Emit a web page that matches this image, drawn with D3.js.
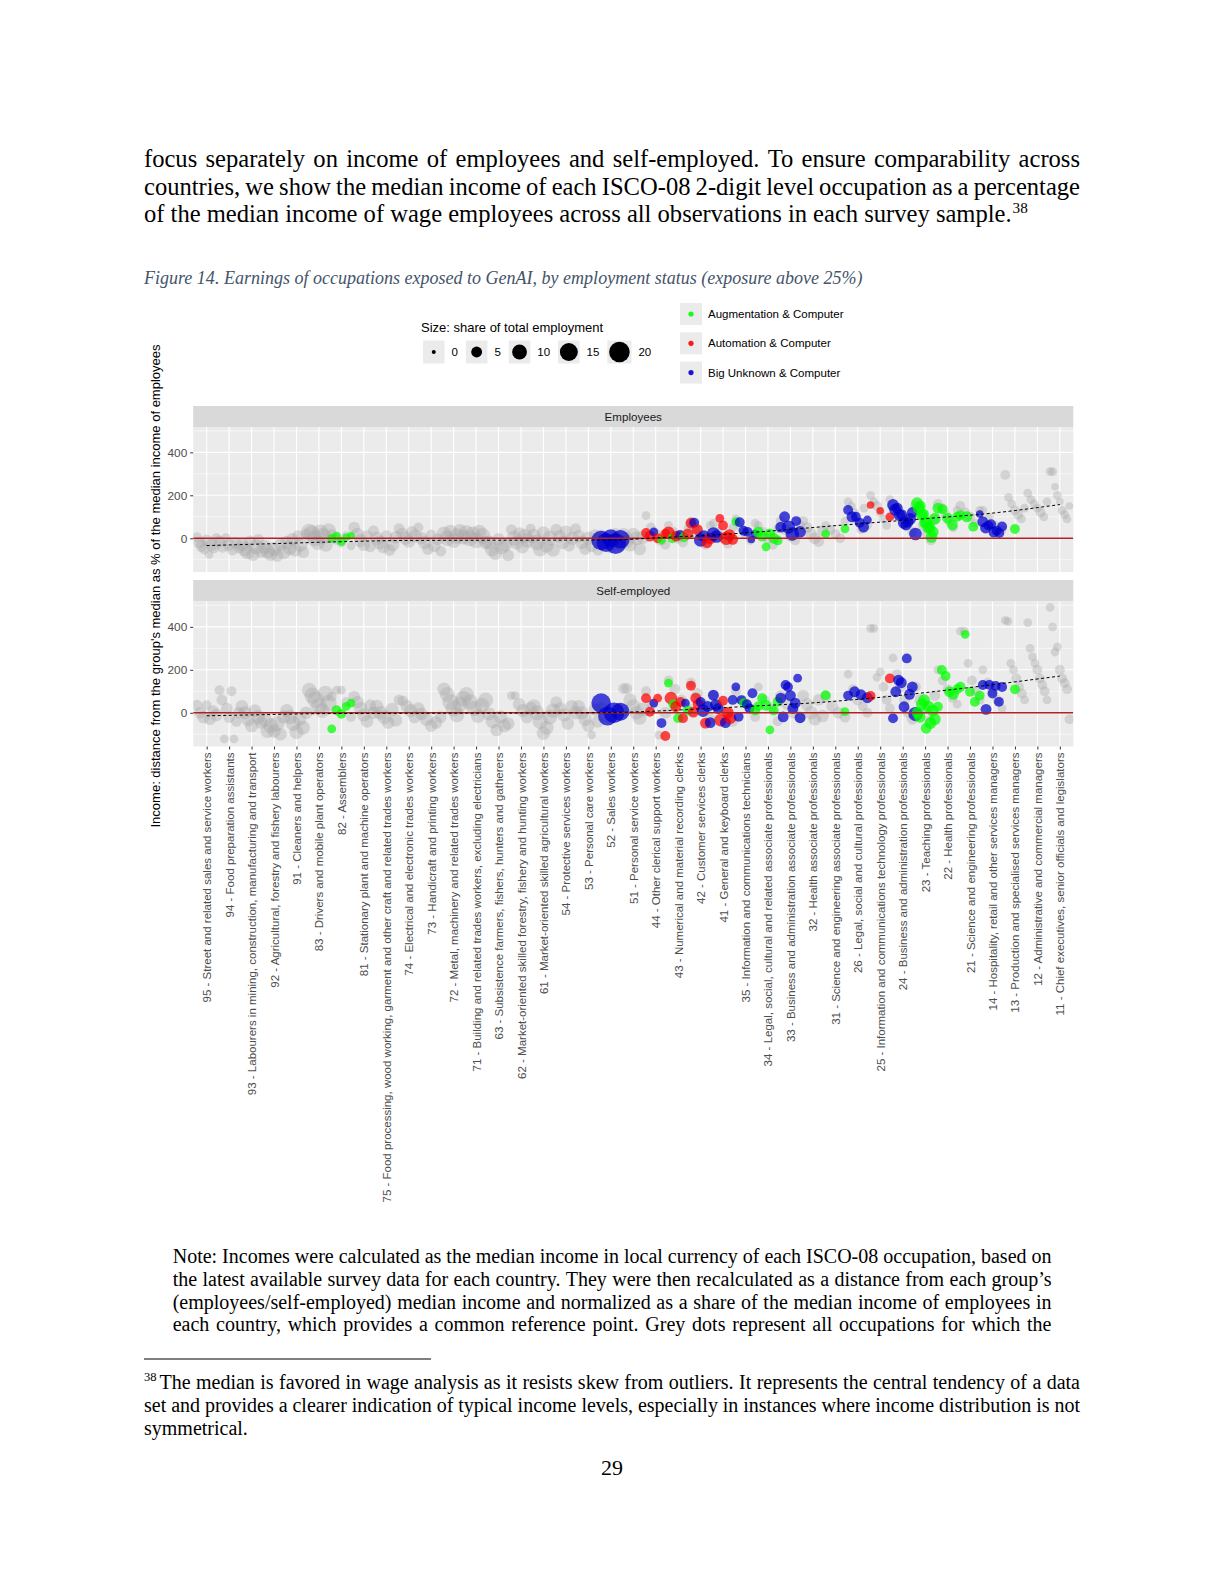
<!DOCTYPE html>
<html><head><meta charset="utf-8">
<script src="https://cdn.jsdelivr.net/npm/d3@7"></script>
<style>body{margin:0;background:#fff}svg{display:block}</style>
</head><body>
<svg id="page" width="1224" height="1584"></svg>
<script>
// ---------------- DATA ----------------
const occupations = [
"95 - Street and related sales and service workers",
"94 - Food preparation assistants",
"93 - Labourers in mining, construction, manufacturing and transport",
"92 - Agricultural, forestry and fishery labourers",
"91 - Cleaners and helpers",
"83 - Drivers and mobile plant operators",
"82 - Assemblers",
"81 - Stationary plant and machine operators",
"75 - Food processing, wood working, garment and other craft and related trades workers",
"74 - Electrical and electronic trades workers",
"73 - Handicraft and printing workers",
"72 - Metal, machinery and related trades workers",
"71 - Building and related trades workers, excluding electricians",
"63 - Subsistence farmers, fishers, hunters and gatherers",
"62 - Market-oriented skilled forestry, fishery and hunting workers",
"61 - Market-oriented skilled agricultural workers",
"54 - Protective services workers",
"53 - Personal care workers",
"52 - Sales workers",
"51 - Personal service workers",
"44 - Other clerical support workers",
"43 - Numerical and material recording clerks",
"42 - Customer services clerks",
"41 - General and keyboard clerks",
"35 - Information and communications technicians",
"34 - Legal, social, cultural and related associate professionals",
"33 - Business and administration associate professionals",
"32 - Health associate professionals",
"31 - Science and engineering associate professionals",
"26 - Legal, social and cultural professionals",
"25 - Information and communications technology professionals",
"24 - Business and administration professionals",
"23 - Teaching professionals",
"22 - Health professionals",
"21 - Science and engineering professionals",
"14 - Hospitality, retail and other services managers",
"13 - Production and specialised services managers",
"12 - Administrative and commercial managers",
"11 - Chief executives, senior officials and legislators"
];
const panelNames = ["Employees", "Self-employed"];
const groups = {A: "Augmentation & Computer", M: "Automation & Computer", B: "Big Unknown & Computer"};
const groupColors = {A: "#00ff00", M: "#ff0000", B: "#0000cd"};
const sizeBreaks = [0, 5, 10, 15, 20];
const yTicks = [0, 200, 400];

// grey points: [income distance %, employment share]
const empGray = [
 [[5,4],[-20,6],[-35,7],[-50,5],[-10,6],[-75,3],[-30,7],[-45,5],[0,4]],
 [[-15,6],[-40,6],[0,4],[-30,7],[-55,5],[-20,6],[-45,5]],
 [[-30,8],[-50,10],[-65,9],[-15,6],[-75,8],[-40,10],[-5,5],[-60,8]],
 [[-40,9],[-60,10],[-75,8],[-50,9],[-80,7],[-30,7],[-65,9]],
 [[-20,8],[-45,9],[-5,7],[-55,8],[10,6],[-30,9],[-65,6],[20,5]],
 [[30,12],[20,13],[0,12],[-20,10],[25,13],[10,12],[-30,9],[35,10]],
 [[20,4],[-5,5],[-20,4],[10,4],[-35,3]],
 [[50,6],[20,7],[-10,8],[-30,7],[10,6],[-40,5],[35,5]],
 [[0,8],[-20,9],[-40,7],[10,6],[-55,6],[-30,8],[5,7]],
 [[45,5],[20,7],[0,8],[-15,7],[30,6],[10,8],[50,4]],
 [[0,7],[-20,8],[-50,6],[15,5],[-35,7],[-5,6],[-60,5]],
 [[20,10],[0,11],[30,9],[-10,10],[10,11],[35,8],[5,10]],
 [[25,11],[0,12],[20,10],[-10,11],[30,9],[10,12],[-20,8]],
 [[-20,9],[-50,10],[-70,8],[-5,7],[-40,10],[-30,9],[-80,6]],
 [[40,5],[0,10],[-20,9],[20,8],[-40,8],[10,9],[-10,10],[45,4]],
 [[10,10],[-20,11],[-50,10],[25,8],[-35,9],[0,11],[-55,8]],
 [[40,6],[10,7],[-20,8],[30,7],[-35,6],[0,8],[45,5]],
 [[10,7],[-20,8],[-50,6],[0,8],[-35,7],[15,6],[-55,5]],
 [[10,8],[-20,9],[-40,7],[20,6],[-30,8]],
 [[15,9],[-10,10],[-30,8],[20,7],[0,9],[-50,7],[5,8]],
 [[105,3],[50,4],[20,5],[-10,5],[-30,4]],
 [[60,3],[30,4],[0,5],[-20,4],[45,3]],
 [[80,3],[40,4],[10,4],[-30,4],[60,3]],
 [[70,3],[30,4],[0,4],[-25,4],[50,3]],
 [[90,3],[50,3],[20,4],[-10,3],[70,3]],
 [[60,3],[30,4],[0,5],[-30,4],[45,3]],
 [[80,4],[40,5],[10,5],[-10,4],[60,4]],
 [[80,4],[50,5],[20,6],[0,6],[-15,5],[35,5]],
 [[60,3],[40,4],[20,4],[0,4],[80,3]],
 [[170,3],[150,3],[120,3],[80,3],[40,3],[140,3],[60,3]],
 [[200,3],[170,3],[150,4],[120,3],[90,3],[60,3],[180,3]],
 [[150,4],[120,4],[90,5],[60,4],[30,4]],
 [[150,5],[120,5],[60,5],[20,5],[-10,4],[90,5]],
 [[160,4],[140,4],[110,4],[80,4],[50,3],[130,3]],
 [[150,4],[120,4],[100,4],[70,3],[130,3]],
 [[130,3],[100,3],[60,3],[40,3]],
 [[295,4],[190,3],[160,3],[130,4],[110,4],[90,3],[140,3]],
 [[210,3],[180,3],[160,3],[140,3],[120,4],[100,3],[170,3]],
 [[310,3],[310,3],[240,2],[200,3],[170,2],[130,3],[110,3],[90,3],[150,2]]
];
// coloured points: [income distance %, employment share, group]
const empColor = [
 [],[],[],[],[],[],
 [[0,3,"A"],[10,3,"A"],[-15,3,"A"],[5,2,"A"],[12,2,"A"]],
 [],[],[],[],[],[],[],[],[],[],[],
 [[-10,18,"B"],[-20,17,"B"],[0,15,"B"],[-25,20,"B"],[-5,16,"B"]],
 [],
 [[25,4,"M"],[10,5,"M"],[30,3,"B"],[0,4,"M"],[-8,3,"A"],[20,4,"M"]],
 [[25,7,"M"],[0,4,"A"],[10,5,"M"],[15,4,"B"],[5,4,"A"],[20,5,"M"]],
 [[70,5,"M"],[72,4,"B"],[40,5,"M"],[-8,8,"B"],[10,6,"B"],[-20,5,"M"],[0,6,"M"]],
 [[20,8,"B"],[8,7,"B"],[93,3,"M"],[60,4,"M"],[0,8,"M"],[15,6,"M"],[-5,5,"M"]],
 [[77,3,"A"],[75,4,"B"],[35,4,"B"],[30,4,"B"],[-6,2,"B"],[20,3,"B"]],
 [[30,5,"A"],[10,5,"A"],[-40,3,"A"],[20,5,"A"],[0,5,"A"],[-10,4,"A"]],
 [[52,5,"B"],[100,5,"B"],[52,8,"B"],[20,8,"B"],[80,4,"B"],[30,6,"B"]],
 [],
 [[20,3,"A"],[44,3,"A"]],
 [[132,4,"B"],[100,5,"B"],[100,4,"B"],[72,4,"B"],[52,5,"B"],[85,3,"B"]],
 [[155,2,"M"],[128,2,"M"],[100,3,"M"]],
 [[155,6,"B"],[133,6,"B"],[140,5,"B"],[108,6,"B"],[110,5,"B"],[72,6,"B"],[62,5,"B"],[75,5,"B"],[90,6,"B"],[120,5,"B"]],
 [[20,7,"B"],[163,6,"A"],[140,6,"A"],[150,5,"A"],[108,6,"A"],[112,5,"A"],[72,6,"A"],[75,6,"A"],[48,6,"A"],[50,5,"A"],[6,6,"A"],[30,5,"A"],[90,6,"A"]],
 [[140,5,"A"],[135,4,"A"],[94,5,"A"],[62,5,"A"],[100,4,"A"]],
 [[108,4,"A"],[100,5,"A"],[54,4,"A"],[113,2,"B"]],
 [[77,5,"B"],[48,5,"B"],[60,4,"B"],[65,4,"B"],[29,5,"B"],[35,4,"B"],[24,4,"B"],[55,4,"B"]],
 [[43,4,"A"]],
 [],[]
];
const selfGray = [
 [[35,5],[0,6],[-20,7],[35,4],[-30,6],[10,5],[-10,7]],
 [[105,4],[60,5],[-122,3],[20,6],[-20,6],[100,4],[-122,3],[-40,5],[0,6]],
 [[30,7],[0,8],[-30,9],[-60,8],[10,7],[-20,9],[-45,7]],
 [[-30,10],[-85,9],[-60,10],[-85,8],[-50,10],[-100,7],[-20,8]],
 [[10,8],[-20,9],[-50,10],[-90,9],[-30,8],[-70,9],[0,7]],
 [[105,10],[80,12],[60,13],[30,12],[10,10],[90,11],[45,12]],
 [[75,4],[105,3],[105,3],[50,4],[-20,4]],
 [[75,6],[50,7],[20,8],[-10,8],[-40,7],[35,6],[0,7]],
 [[30,8],[0,9],[-20,9],[-45,7],[15,8],[-35,7]],
 [[60,5],[55,5],[30,7],[10,8],[-20,7],[20,7]],
 [[-5,7],[-30,8],[-60,7],[-45,7],[-20,6]],
 [[110,8],[85,10],[50,12],[20,12],[-10,10],[40,11],[65,11]],
 [[85,10],[50,11],[20,11],[-15,9],[35,10],[60,10]],
 [[-5,8],[-40,9],[-80,7],[-20,8],[-60,8],[-50,7]],
 [[80,3],[80,3],[40,7],[10,8],[-20,7],[20,8]],
 [[30,9],[0,10],[-40,11],[-95,8],[-70,9],[-20,10],[10,10]],
 [[50,6],[20,7],[-10,8],[-50,7],[30,7],[0,8]],
 [[30,7],[0,8],[-30,8],[-60,7],[-103,3],[15,7],[-40,7]],
 [[20,8],[-20,8],[10,9]],
 [[113,5],[113,5],[60,8],[30,9],[0,9],[-25,8],[15,9]],
 [[100,4],[40,5],[-104,3],[0,6]],
 [[150,4],[110,5],[60,5],[20,5]],
 [[140,4],[90,5],[40,5],[-30,5]],
 [[80,5],[40,5],[0,5],[-40,5]],
 [[100,4],[60,4],[20,4],[-20,4]],
 [[120,3],[60,4],[20,4],[-40,4]],
 [[80,5],[40,6],[0,6],[-20,6]],
 [[80,6],[40,7],[0,8],[-30,7],[60,6],[-15,7]],
 [[75,5],[30,6],[0,6],[-20,5]],
 [[180,3],[110,4],[60,5],[30,4],[0,4]],
 [[393,3],[393,3],[165,3],[190,3],[120,4],[60,4],[20,4]],
 [[255,3],[180,4],[120,5],[60,5],[0,5],[-30,5]],
 [[120,5],[60,6],[20,6],[-40,6],[80,5]],
 [[200,3],[150,4],[110,4],[70,4],[40,3]],
 [[380,3],[380,3],[230,3],[150,4],[100,4],[60,4]],
 [[200,3],[140,4],[100,4],[60,4],[20,3]],
 [[430,3],[425,3],[230,3],[200,3],[160,4],[120,4],[90,4],[60,3]],
 [[420,3],[300,3],[260,3],[230,3],[200,4],[160,4],[130,4],[100,4],[60,3]],
 [[490,3],[400,3],[283,3],[307,3],[200,4],[160,4],[138,4],[110,4],[-30,4]]
];
const selfColor = [
 [],[],[],[],[],[],
 [[-75,3,"A"],[12,4,"A"],[-5,4,"A"],[30,3,"A"],[45,3,"A"]],
 [],[],[],[],[],[],[],[],[],[],[],
 [[45,18,"B"],[-15,17,"B"],[0,20,"B"],[5,15,"B"]],
 [],
 [[68,4,"M"],[5,4,"M"],[45,3,"B"],[68,3,"M"],[-48,4,"B"],[-108,4,"M"]],
 [[138,3,"A"],[68,7,"M"],[40,4,"A"],[28,5,"M"],[-25,4,"A"],[50,4,"M"],[-25,4,"M"],[45,3,"B"],[10,4,"A"]],
 [[126,4,"M"],[3,5,"M"],[68,5,"M"],[40,5,"M"],[50,4,"B"],[10,7,"B"],[-48,5,"M"],[30,5,"B"],[-46,5,"B"]],
 [[82,5,"B"],[36,6,"B"],[20,5,"B"],[-34,7,"M"],[56,4,"M"],[-46,5,"B"],[0,6,"M"],[-25,6,"M"],[60,4,"B"]],
 [[121,3,"B"],[-19,4,"B"],[59,4,"B"],[45,4,"A"],[40,4,"B"],[20,4,"B"],[91,4,"B"],[10,4,"A"]],
 [[30,4,"A"],[68,4,"A"],[35,5,"A"],[-80,3,"A"],[10,4,"A"],[51,4,"A"]],
 [[68,5,"B"],[-19,5,"B"],[129,4,"B"],[120,4,"B"],[80,5,"B"],[20,5,"B"],[45,5,"B"],[161,3,"B"],[-23,5,"B"]],
 [],
 [[82,4,"A"],[5,3,"A"]],
 [[80,4,"B"],[98,5,"B"],[84,5,"B"],[70,5,"B"]],
 [[78,4,"M"],[160,4,"M"]],
 [[-26,4,"B"],[98,5,"B"],[152,5,"B"],[140,5,"B"],[28,5,"B"],[253,4,"B"],[86,5,"B"],[120,5,"B"]],
 [[-6,9,"B"],[0,6,"A"],[-19,6,"A"],[40,6,"A"],[59,6,"A"],[-72,5,"A"],[28,6,"A"],[-48,6,"A"],[10,6,"A"],[-30,6,"A"]],
 [[28,4,"A"],[199,4,"A"],[171,4,"A"],[98,5,"A"],[86,5,"A"],[110,4,"A"]],
 [[121,4,"A"],[365,3,"A"],[98,4,"A"],[51,4,"A"],[80,4,"A"]],
 [[129,4,"B"],[16,5,"B"],[130,4,"B"],[90,4,"B"],[125,4,"B"],[51,4,"B"],[120,4,"B"]],
 [[109,4,"A"]],
 [],[]
];
// smoothed trend: [occupation index, value]
const empTrend = [[0,-34],[3,-25],[6,-16],[9,-10],[13,-9],[18,-8],[20,2],[23,18],[25.5,37],[27.8,57],[32.2,93],[34.9,116],[38,157]];
const selfTrend = [[0,-14],[2,-10],[5,-4],[10,-2],[15,-1],[18,1],[19.3,5],[22,18],[24.5,32],[26.7,44],[29.8,70],[33.85,116],[38,171]];

// page text
const bodyLines = [
"focus separately on income of employees and self-employed. To ensure comparability across",
"countries, we show the median income of each ISCO-08 2-digit level occupation as a percentage",
"of the median income of wage employees across all observations in each survey sample."];
const captionText = "Figure 14. Earnings of occupations exposed to GenAI, by employment status (exposure above 25%)";
const noteLines = [
"Note: Incomes were calculated as the median income in local currency of each ISCO-08 occupation, based on",
"the latest available survey data for each country. They were then recalculated as a distance from each group\u2019s",
"(employees/self-employed) median income and normalized as a share of the median income of employees in",
"each country, which provides a common reference point. Grey dots represent all occupations for which the"];
const footLines = [
"The median is favored in wage analysis as it resists skew from outliers. It represents the central tendency of a data",
"set and provides a clearer indication of typical income levels, especially in instances where income distribution is not",
"symmetrical."];

// ---------------- DRAW ----------------
const svg = d3.select("#page");
const serif = '"Liberation Serif","Times New Roman",serif';
const sans = '"Liberation Sans",Arial,Helvetica,sans-serif';
const ctx = document.createElement("canvas").getContext("2d");
function measure(t, size, style, fam){ ctx.font = `${style||""} ${size}px ${fam||serif}`; return ctx.measureText(t).width; }
function textLine(t, x0, x1, y, size, opts){
  opts = opts || {};
  const style = opts.italic ? "italic" : "";
  const words = t.split(" ");
  const ws = words.map(w => measure(w, size, style));
  let gap = measure(" ", size, style);
  if (opts.justify && words.length > 1) gap = Math.max(1.5, (x1 - x0 - d3.sum(ws)) / (words.length - 1));
  const el = svg.append("text").attr("y", y).attr("font-family", serif).attr("font-size", size)
    .attr("fill", opts.color || "#000");
  if (opts.italic) el.attr("font-style", "italic");
  let x = x0;
  words.forEach((w, i) => { el.append("tspan").attr("x", x).text(w); x += ws[i] + gap; });
  return x - gap;
}

// body paragraph
const bodySize = Math.max(20, Math.min(25, 22 * 868 / measure(bodyLines[2], 22)));
textLine(bodyLines[0], 144, 1080, 167, bodySize, {justify: true});
textLine(bodyLines[1], 144, 1080, 194.5, bodySize, {justify: true});
const endL3 = textLine(bodyLines[2], 144, 1080, 222, bodySize);
svg.append("text").attr("x", endL3 + 1).attr("y", 213).attr("font-family", serif)
  .attr("font-size", bodySize * 0.62).text("38");

// caption
const capSize = Math.max(15, Math.min(20, 18 * 719.5 / measure(captionText, 18, "italic")));
textLine(captionText, 144, 864, 284, capSize, {italic: true, color: "#44546a"});

// chart geometry
const x = d3.scalePoint().domain(occupations).range([193.2, 1073.3]).padding(0.6);
const step = x.step();
const r = d3.scaleRadial().domain([0, 20]).range([2, 10.3]);
const panels = [
  {name: panelNames[0], stripTop: 406, top: 427, bottom: 572, gray: empGray, color: empColor, trend: empTrend},
  {name: panelNames[1], stripTop: 580, top: 601.5, bottom: 746.5, gray: selfGray, color: selfColor, trend: selfTrend}
];
const xl = 193.2, xr = 1073.3;
const defs = svg.append("defs");

panels.forEach((p, pi) => {
  const y = d3.scaleLinear().domain([-157, 518]).range([p.bottom, p.top]);
  const g = svg.append("g");
  // strip
  g.append("rect").attr("x", xl).attr("y", p.stripTop).attr("width", xr - xl).attr("height", p.top - p.stripTop).attr("fill", "#d9d9d9");
  g.append("text").attr("x", (xl + xr) / 2).attr("y", (p.stripTop + p.top) / 2).attr("dy", "0.35em")
    .attr("text-anchor", "middle").attr("font-family", sans).attr("font-size", 11.6).attr("fill", "#1a1a1a").text(p.name);
  // panel
  g.append("rect").attr("x", xl).attr("y", p.top).attr("width", xr - xl).attr("height", p.bottom - p.top).attr("fill", "#ebebeb");
  const minor = [-100, 100, 300, 500];
  g.selectAll(".minor").data(minor).join("line").attr("x1", xl).attr("x2", xr)
    .attr("y1", d => y(d)).attr("y2", d => y(d)).attr("stroke", "#fff").attr("stroke-width", 0.55);
  g.selectAll(".major").data(yTicks).join("line").attr("x1", xl).attr("x2", xr)
    .attr("y1", d => y(d)).attr("y2", d => y(d)).attr("stroke", "#fff").attr("stroke-width", 1.1);
  g.selectAll(".vgrid").data(occupations).join("line").attr("x1", d => x(d)).attr("x2", d => x(d))
    .attr("y1", p.top).attr("y2", p.bottom).attr("stroke", "#fff").attr("stroke-width", 1.1);

  const cid = "clip" + pi;
  defs.append("clipPath").attr("id", cid).append("rect").attr("x", xl).attr("y", p.top).attr("width", xr - xl).attr("height", p.bottom - p.top);
  const pg = g.append("g").attr("clip-path", `url(#${cid})`);

  function spread(list, i){
    const n = list.length;
    return list.map((d, k) => ({cx: x(occupations[i]) + (n > 1 ? (k / (n - 1) - 0.5) * 0.86 * step : 0), v: d[0], s: d[1], grp: d[2]}));
  }
  const grayPts = p.gray.flatMap((list, i) => spread(list, i));
  const colPts = p.color.flatMap((list, i) => spread(list, i));
  pg.selectAll(".gp").data(grayPts).join("circle").attr("cx", d => d.cx).attr("cy", d => y(d.v))
    .attr("r", d => r(d.s)).attr("fill", "#a8a8a8").attr("fill-opacity", 0.38);
  pg.selectAll(".cp").data(colPts).join("circle").attr("cx", d => d.cx).attr("cy", d => y(d.v))
    .attr("r", d => r(d.s)).attr("fill", d => groupColors[d.grp]).attr("fill-opacity", 0.72);
  // zero line
  pg.append("line").attr("x1", xl).attr("x2", xr).attr("y1", y(0)).attr("y2", y(0)).attr("stroke", "#b22222").attr("stroke-width", 1.7);
  // trend
  const step0 = x(occupations[1]) - x(occupations[0]);
  const line = d3.line().x(d => x(occupations[0]) + d[0] * step0).y(d => y(d[1])).curve(d3.curveMonotoneX);
  pg.append("path").attr("d", line(p.trend)).attr("fill", "none").attr("stroke", "#000").attr("stroke-width", 1).attr("stroke-dasharray", "3,2.5");

  // y axis
  const ya = g.append("g").attr("transform", `translate(${xl},0)`).call(d3.axisLeft(y).tickValues(yTicks).tickSize(3).tickPadding(3));
  ya.select(".domain").remove();
  ya.selectAll("line").attr("stroke", "#333");
  ya.selectAll("text").attr("font-family", sans).attr("font-size", 11.8).attr("fill", "#4d4d4d");

  if (pi === 1) {
    const xa = g.append("g").attr("transform", `translate(0,${p.bottom})`).call(d3.axisBottom(x).tickSize(3));
    xa.select(".domain").remove();
    xa.selectAll("line").attr("stroke", "#333");
    xa.selectAll("text").attr("transform", "rotate(-90)").attr("x", -6).attr("y", 0).attr("dy", "0.35em")
      .attr("text-anchor", "end").attr("font-family", sans).attr("font-size", 11.5).attr("fill", "#4d4d4d");
  }
});

// y title
svg.append("text").attr("transform", "translate(155,586) rotate(-90)").attr("text-anchor", "middle").attr("dy", "0.35em")
  .attr("font-family", sans).attr("font-size", 13).attr("fill", "#000")
  .text("Income: distance from the group's median as % of the median income of employees");

// size legend
const lg = svg.append("g");
lg.append("text").attr("x", 421).attr("y", 327).attr("dy", "0.35em").attr("font-family", sans).attr("font-size", 13).text("Size: share of total employment");
let lx = 423;
sizeBreaks.forEach(b => {
  const rr = r(b);
  const bw = Math.max(21.5, 2 * rr + 3.5);
  lg.append("rect").attr("x", lx).attr("y", 340.5).attr("width", bw).attr("height", 23).attr("fill", "#ebebeb");
  lg.append("circle").attr("cx", lx + bw / 2).attr("cy", 352).attr("r", rr).attr("fill", "#000");
  const tx = lx + bw + 7;
  lg.append("text").attr("x", tx).attr("y", 352).attr("dy", "0.35em").attr("font-family", sans).attr("font-size", 11.5).text(b);
  lx = tx + measure(String(b), 11.5, "", sans) + 8;
});
// colour legend
Object.keys(groups).forEach((k, i) => {
  const cy = 314 + i * 29.3;
  lg.append("rect").attr("x", 680).attr("y", cy - 11).attr("width", 22).attr("height", 22).attr("fill", "#ebebeb");
  lg.append("circle").attr("cx", 691).attr("cy", cy).attr("r", 2.6).attr("fill", groupColors[k]).attr("fill-opacity", 0.9);
  lg.append("text").attr("x", 708).attr("y", cy).attr("dy", "0.35em").attr("font-family", sans).attr("font-size", 11.5).text(groups[k]);
});

// note
const noteY = [1263, 1286, 1308.5, 1331];
noteLines.forEach((t, i) => textLine(t, 172.7, 1051.5, noteY[i], 20, {justify: true}));

// footnote rule
svg.append("line").attr("x1", 144).attr("x2", 431).attr("y1", 1359).attr("y2", 1359).attr("stroke", "#000").attr("stroke-width", 1);
svg.append("text").attr("x", 144).attr("y", 1381).attr("font-family", serif).attr("font-size", 12.5).text("38");
textLine(footLines[0], 159.5, 1080, 1389, 20, {justify: true});
textLine(footLines[1], 144, 1080, 1412, 20, {justify: true});
textLine(footLines[2], 144, 1080, 1434.5, 20);

// page number
svg.append("text").attr("x", 612).attr("y", 1475).attr("text-anchor", "middle").attr("font-family", serif).attr("font-size", 22).text("29");
</script>
</body></html>
